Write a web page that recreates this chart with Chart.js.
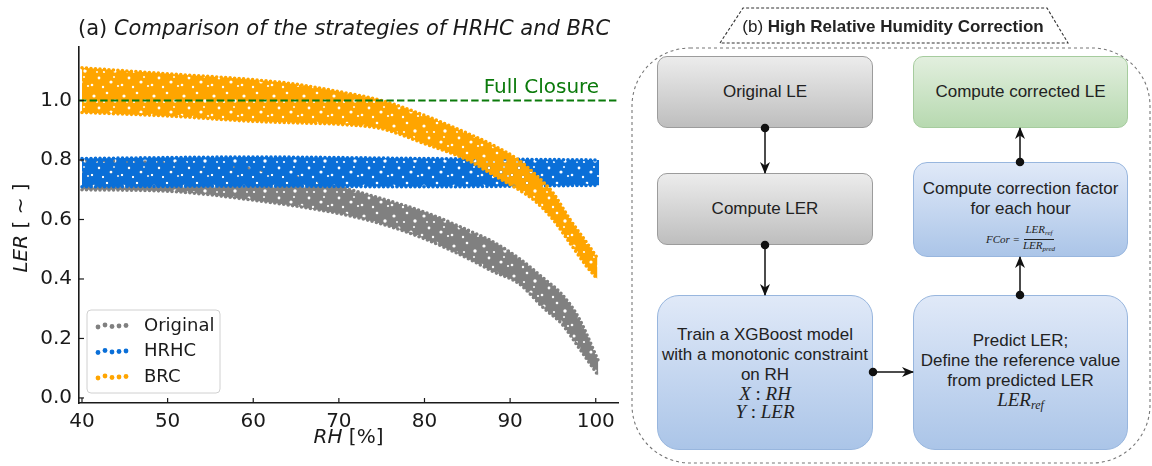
<!DOCTYPE html>
<html>
<head>
<meta charset="utf-8">
<script src="https://cdn.jsdelivr.net/npm/chart.js@4.4.0/dist/chart.umd.min.js"></script>
<style>
body{margin:0;width:1152px;height:466px;overflow:hidden;background:#fff;font-family:"Liberation Sans",Arial,sans-serif;}
#left{position:absolute;left:0;top:0;width:630px;height:466px;}
#flow{position:absolute;left:0;top:0;pointer-events:none;}
.box{position:absolute;display:flex;flex-direction:column;align-items:center;justify-content:center;text-align:center;font-size:17px;line-height:20px;color:#222;box-sizing:border-box;}
.gray{background:linear-gradient(#ececec,#bebebe);border:1px solid #9c9c9c;border-radius:10px;}
.green{background:linear-gradient(#e2efde,#b7d9b0);border:1px solid #a6cc9e;border-radius:10px;}
.blue{background:linear-gradient(#e0e9f8,#abc5e8);border:1px solid #98b6de;border-radius:14px;}
.big{border-radius:22px;}
.m{font-family:"Liberation Serif","DejaVu Serif",serif;font-style:italic;font-size:19px;line-height:18px;}
.m .u{font-style:normal;}
.m sub{font-size:12px;vertical-align:-3px;}
.frac{display:flex;align-items:center;font-family:"Liberation Serif",serif;font-style:italic;font-size:11px;margin-top:5px;}
.frac .fr{display:inline-flex;flex-direction:column;align-items:center;margin-left:3px;line-height:11px;}
.frac .fr span:first-child{border-bottom:0.8px solid #222;padding:0 1px;}
.frac sub{font-size:7px;vertical-align:-2px;}
#ttl{position:absolute;left:733px;top:17px;width:320px;text-align:center;font-size:17px;color:#222;line-height:20px;}
</style>
</head>
<body>
<div id="left"><canvas id="myChartLER"></canvas></div>

<div class="box gray" style="left:657px;top:56px;width:216px;height:72px;">Original LE</div>
<div class="box gray" style="left:657px;top:173px;width:216px;height:72px;">Compute LER</div>
<div class="box blue big" style="left:657px;top:295px;width:216px;height:155px;">
  <div>Train a XGBoost model</div><div>with a monotonic constraint</div><div>on RH</div>
  <div class="m">X <span class="u">:</span> RH</div><div class="m">Y <span class="u">:</span> LER</div>
</div>
<div class="box green" style="left:913px;top:56px;width:215px;height:72px;">Compute corrected LE</div>
<div class="box blue" style="left:913px;top:162px;width:215px;height:95px;padding-top:14px;">
  <div>Compute correction factor</div><div>for each hour</div>
  <div class="frac">FCor =<span class="fr"><span>LER<sub>ref</sub></span><span>LER<sub>pred</sub></span></span></div>
</div>
<div class="box blue big" style="left:913px;top:295px;width:215px;height:155px;">
  <div>Predict LER;</div><div>Define the reference value</div><div>from predicted LER</div>
  <div class="m">LER<sub>ref</sub></div>
</div>

<svg id="flow" width="1152" height="466">
  <defs>
    <marker id="arr" markerWidth="12" markerHeight="12" refX="11" refY="6" orient="auto" markerUnits="userSpaceOnUse">
      <path d="M0,1 L12,6 L0,11 L3.5,6 Z" fill="#111"/>
    </marker>
  </defs>
  <rect x="632" y="48" width="518" height="415" rx="58" ry="58" fill="none" stroke="#777" stroke-width="1.1" stroke-dasharray="3,3"/>
  <path d="M720,43 L743,8 L1047,8 L1068,43 Z" fill="#fff" stroke="#333" stroke-width="1.1" stroke-dasharray="3,2"/>
  <g stroke="#111" stroke-width="1.5" fill="#111">
    <line x1="765" y1="128" x2="765" y2="173" marker-end="url(#arr)"/><circle cx="765" cy="128" r="3.5"/>
    <line x1="765" y1="245" x2="765" y2="295" marker-end="url(#arr)"/><circle cx="765" cy="245" r="3.5"/>
    <line x1="873" y1="372" x2="913" y2="372" marker-end="url(#arr)"/><circle cx="873" cy="372" r="3.5"/>
    <line x1="1020" y1="295" x2="1020" y2="257" marker-end="url(#arr)"/><circle cx="1020" cy="295" r="3.5"/>
    <line x1="1020" y1="162" x2="1020" y2="128" marker-end="url(#arr)"/><circle cx="1020" cy="162" r="3.5"/>
  </g>
</svg>
<div id="ttl">(b) <b>High Relative Humidity Correction</b></div>

<script>
// Band edges (RH in %, LER upper / lower edge)
var brcRH    = [40, 50, 60, 65, 70, 75, 80, 85, 88, 91, 93, 95, 97, 99, 100.2];
var brcTop   = [1.11, 1.09, 1.07, 1.055, 1.03, 1.0, 0.95, 0.89, 0.85, 0.80, 0.75, 0.69, 0.60, 0.52, 0.47];
var brcBot   = [0.96, 0.948, 0.93, 0.925, 0.92, 0.905, 0.855, 0.80, 0.75, 0.70, 0.66, 0.60, 0.52, 0.44, 0.40];

var hrhcRH   = [40, 60, 80, 100.4];
var hrhcTop  = [0.805, 0.81, 0.805, 0.80];
var hrhcBot  = [0.71, 0.712, 0.71, 0.715];

var origRH   = [40, 50, 60, 70, 75, 80, 85, 88, 91, 94, 96, 98, 100.3];
var origTop  = [0.80, 0.79, 0.77, 0.71, 0.67, 0.625, 0.565, 0.525, 0.47, 0.40, 0.35, 0.27, 0.125];
var origBot  = [0.70, 0.695, 0.665, 0.62, 0.585, 0.535, 0.47, 0.425, 0.385, 0.30, 0.25, 0.17, 0.075];

var fullClosure = 1.0;
var xTicks = [40, 50, 60, 70, 80, 90, 100];
var yTicks = [0.0, 0.2, 0.4, 0.6, 0.8, 1.0];
var seriesNames = ['Original', 'HRHC', 'BRC'];

var xMin = 39.65, xMax = 102.6, yMin = -0.017, yMax = 1.18;
var cGrey = '#808080', cBlue = '#0a6fd8', cOrange = '#ffa500', cGreen = '#0b7a0b';
var seriesColors = [cGrey, cBlue, cOrange];

function pts(xs, ys) { return xs.map(function (v, i) { return {x: v, y: ys[i]}; }); }

// mostly solid texture with a few small gaps, like a dense dot cloud
var holes = [[4, 6, 1.6], [17, 3, 1.3], [25, 11, 1.7], [9, 18, 1.4], [21, 22, 1.6], [13, 27, 1.2],
             [2, 25, 1.3], [28, 26, 1.1], [14, 12, 1.1], [7, 12, 0.9], [24, 17, 1.0]];
function speckle(color) {
    var c = document.createElement('canvas');
    c.width = 30; c.height = 30;
    var g = c.getContext('2d');
    g.fillStyle = color;
    g.fillRect(0, 0, 30, 30);
    g.globalCompositeOperation = 'destination-out';
    holes.forEach(function (h) {
        g.beginPath(); g.arc(h[0], h[1], h[2], 0, Math.PI * 2); g.fill();
    });
    return g.createPattern(c, 'repeat');
}

function edge(data, color) {
    return {
        data: data, showLine: true, pointRadius: 0,
        borderColor: color, borderWidth: 3.6, borderDash: [0, 4.5], borderCapStyle: 'round',
        cubicInterpolationMode: 'monotone', fill: false
    };
}

var datasets = [
    {data: [{x: xMin, y: fullClosure}, {x: xMax, y: fullClosure}], showLine: true, pointRadius: 0,
     borderColor: cGreen, borderWidth: 2, borderDash: [7.4, 3.2], fill: false},
    edge(pts(brcRH, brcTop), cOrange),
    Object.assign(edge(pts(brcRH, brcBot), cOrange), {fill: 1, backgroundColor: speckle(cOrange)}),
    edge(pts(hrhcRH, hrhcTop), cBlue),
    Object.assign(edge(pts(hrhcRH, hrhcBot), cBlue), {fill: 3, backgroundColor: speckle(cBlue)}),
    edge(pts(origRH, origTop), cGrey),
    Object.assign(edge(pts(origRH, origBot), cGrey), {fill: 5, backgroundColor: speckle(cGrey)})
];

var ink = '#1a1a1a';
var deco = {
    id: 'deco',
    afterDraw: function (chart) {
        var ctx = chart.ctx, a = chart.chartArea, sx = chart.scales.x, sy = chart.scales.y;
        ctx.save();
        // inward ticks
        ctx.strokeStyle = ink; ctx.lineWidth = 1.2;
        sx.ticks.forEach(function (t) {
            var p = sx.getPixelForValue(t.value);
            ctx.beginPath(); ctx.moveTo(p, a.bottom); ctx.lineTo(p, a.bottom - 5); ctx.stroke();
        });
        sy.ticks.forEach(function (t) {
            var p = sy.getPixelForValue(t.value);
            ctx.beginPath(); ctx.moveTo(a.left, p); ctx.lineTo(a.left + 5, p); ctx.stroke();
        });
        ctx.fillStyle = ink; ctx.textBaseline = 'middle'; ctx.textAlign = 'left';
        // title
        ctx.font = '21px "DejaVu Sans"';
        ctx.fillText('(a) ', 78, 30);
        var w = ctx.measureText('(a) ').width;
        ctx.font = 'italic 21px "DejaVu Sans"';
        ctx.fillText('Comparison of the strategies of HRHC and BRC', 78 + w, 30);
        // x title
        ctx.font = 'italic 20px "DejaVu Sans"';
        var w1 = ctx.measureText('RH').width;
        ctx.font = '20px "DejaVu Sans"';
        var w2 = ctx.measureText(' [%]').width;
        var cx = (a.left + a.right) / 2 - (w1 + w2) / 2;
        ctx.font = 'italic 20px "DejaVu Sans"'; ctx.fillText('RH', cx, 438);
        ctx.font = '20px "DejaVu Sans"'; ctx.fillText(' [%]', cx + w1, 438);
        // y title
        ctx.save();
        ctx.translate(22, (a.top + a.bottom) / 2 + 3);
        ctx.rotate(-Math.PI / 2);
        ctx.font = 'italic 20px "DejaVu Sans"';
        w1 = ctx.measureText('LER').width;
        ctx.font = '20px "DejaVu Sans"';
        w2 = ctx.measureText(' [ ~ ]').width;
        ctx.font = 'italic 20px "DejaVu Sans"'; ctx.fillText('LER', -(w1 + w2) / 2, 0);
        ctx.font = '20px "DejaVu Sans"'; ctx.fillText(' [ ~ ]', -(w1 + w2) / 2 + w1, 0);
        ctx.restore();
        // Full Closure label
        ctx.fillStyle = cGreen; ctx.textAlign = 'right';
        ctx.fillText('Full Closure', sx.getPixelForValue(100.4), sy.getPixelForValue(fullClosure) - 13);
        // legend
        var lx = a.left + 8, ly = a.bottom - 93;
        ctx.fillStyle = 'rgba(255,255,255,0.85)'; ctx.strokeStyle = '#d0d0d0'; ctx.lineWidth = 1;
        ctx.beginPath(); ctx.roundRect(lx, ly, 133, 83, 4); ctx.fill(); ctx.stroke();
        var jy = [1, -1, 0.5, 0, -0.5];
        seriesNames.forEach(function (n, i) {
            var ry = ly + 16 + i * 25.5;
            ctx.fillStyle = seriesColors[i];
            for (var k = 0; k < 5; k++) {
                ctx.beginPath(); ctx.arc(lx + 11 + k * 7, ry + jy[k], 2.4, 0, Math.PI * 2); ctx.fill();
            }
            ctx.fillStyle = ink; ctx.textAlign = 'left'; ctx.font = '18px "DejaVu Sans"';
            ctx.fillText(n, lx + 57, ry);
        });
        ctx.restore();
    }
};

var ctx = document.getElementById('myChartLER');
var myChart = new Chart(ctx, {
    type: 'scatter',
    data: {datasets: datasets},
    plugins: [deco],
    options: {
        responsive: true,
        maintainAspectRatio: false,
        animation: false,
        layout: {padding: {top: 47, right: 12, left: 0, bottom: 0}},
        plugins: {legend: {display: false}, tooltip: {enabled: false}},
        scales: {
            x: {
                type: 'linear', min: xMin, max: xMax,
                grid: {display: false, drawTicks: false},
                border: {display: true, color: ink, width: 1.6},
                ticks: {color: ink, font: {family: 'DejaVu Sans', size: 20}, padding: 7, maxRotation: 0},
                afterBuildTicks: function (s) { s.ticks = xTicks.map(function (v) { return {value: v}; }); },
                afterFit: function (s) { s.height = 63; }
            },
            y: {
                type: 'linear', min: yMin, max: yMax,
                grid: {display: false, drawTicks: false},
                border: {display: true, color: ink, width: 1.6},
                ticks: {color: ink, font: {family: 'DejaVu Sans', size: 20}, padding: 7,
                        callback: function (v) { return v.toFixed(1); }},
                afterBuildTicks: function (s) { s.ticks = yTicks.map(function (v) { return {value: v}; }); },
                afterFit: function (s) { s.width = 79; }
            }
        }
    }
});
</script>
</body>
</html>
